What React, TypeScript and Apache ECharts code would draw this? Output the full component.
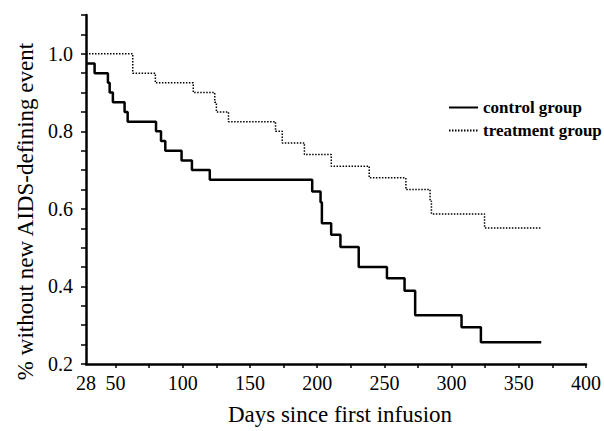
import React, { useEffect, useRef } from "react";
import * as echarts from "echarts";

const controlDays = [28, 34.4, 44.3, 45.6, 48, 56.7, 59, 80.1, 83.8, 87, 99.1, 106.8, 120.1, 196.3, 202.5, 203.5, 210.4, 217.3, 230.9, 251.9, 265, 272.9, 307.4, 321.8, 366.7];
const controlSurv = [0.975, 0.95, 0.925, 0.9, 0.875, 0.85, 0.825, 0.8, 0.775, 0.75, 0.725, 0.7, 0.675, 0.645, 0.617, 0.563, 0.533, 0.502, 0.45, 0.421, 0.389, 0.326, 0.295, 0.256, 0.256];

const treatDays = [28, 62.8, 79.6, 107.8, 123.8, 125, 134, 169, 174, 190.5, 210.5, 238.7, 266, 284, 285, 324.5, 367];
const treatSurv = [1.0, 0.95, 0.925, 0.9, 0.875, 0.85, 0.825, 0.8, 0.77, 0.74, 0.71, 0.68, 0.65, 0.62, 0.587, 0.551, 0.551];

const xLabelValues = [28, 50, 100, 150, 200, 250, 300, 350, 400];
const xTickValues = [50, 75, 100, 125, 150, 175, 200, 225, 250, 275, 300, 325, 350, 375, 400];
const yLabelValues = [0.2, 0.4, 0.6, 0.8, 1.0];
const yTickValues = [0.2, 0.25, 0.3, 0.35, 0.4, 0.45, 0.5, 0.55, 0.6, 0.65, 0.7, 0.75, 0.8, 0.85, 0.9, 0.95, 1.0, 1.05, 1.1];

const seriesNames = ["control group", "treatment group"];
const xTitle = "Days since first infusion";
const yTitle = "% without new AIDS-defining event";

const FONT = "Liberation Serif";

export default function App() {
  const ref = useRef<HTMLDivElement>(null);
  useEffect(() => {
    if (!ref.current) return;
    const chart = echarts.init(ref.current, undefined, { renderer: "svg" });
    const control = controlDays.map((d, i) => [d, controlSurv[i]]);
    const treat = treatDays.map((d, i) => [d, treatSurv[i]]);
    const legendText = {
      fontFamily: FONT,
      fontWeight: "bold",
      fontSize: 17,
      color: "#000",
    };
    chart.setOption({
      animation: false,
      backgroundColor: "#fff",
      textStyle: { fontFamily: FONT, color: "#000" },
      grid: { left: 86, right: 16, top: 15, bottom: 63 },
      legend: {
        orient: "vertical",
        left: 443,
        top: 94,
        itemWidth: 29,
        itemHeight: 14,
        itemGap: 6,
        data: seriesNames.map((n) => ({ name: n, textStyle: legendText })),
        itemStyle: { opacity: 0 },
        textStyle: legendText,
      },
      xAxis: {
        type: "value",
        min: 28,
        max: 400,
        name: xTitle,
        nameLocation: "middle",
        nameGap: 39,
        nameTextStyle: { fontFamily: FONT, fontSize: 23, color: "#000", padding: [0, 0, 0, 8] },
        axisLine: { lineStyle: { color: "#000", width: 2.5 } },
        axisTick: { show: true, customValues: xTickValues, length: 4, lineStyle: { color: "#000", width: 1.5 } },
        axisLabel: {
          customValues: xLabelValues,
          margin: 9,
          fontFamily: FONT,
          fontSize: 20,
          color: "#000",
        },
        splitLine: { show: false },
      },
      yAxis: {
        type: "value",
        min: 0.2,
        max: 1.1,
        name: yTitle,
        nameLocation: "middle",
        nameGap: 37,
        nameTextStyle: { fontFamily: FONT, fontSize: 23, color: "#000", padding: [0, 44, 0, 0] },
        axisLine: { show: true, lineStyle: { color: "#000", width: 2.5 } },
        axisTick: { show: true, customValues: yTickValues, length: 5, lineStyle: { color: "#000", width: 1.5 } },
        axisLabel: {
          customValues: yLabelValues,
          margin: 13,
          fontFamily: FONT,
          fontSize: 20,
          color: "#000",
          formatter: (v: number) => v.toFixed(1),
        },
        splitLine: { show: false },
      },
      series: [
        {
          name: seriesNames[0],
          type: "line",
          step: "end",
          data: control,
          symbol: "none",
          lineStyle: { color: "#000", width: 2.5 },
          itemStyle: { color: "#000" },
        },
        {
          name: seriesNames[1],
          type: "line",
          step: "end",
          data: treat,
          symbol: "none",
          lineStyle: { color: "#000", width: 1.5, type: [1.5, 1.5] },
          itemStyle: { color: "#000" },
        },
      ],
    });
    return () => chart.dispose();
  }, []);
  return (
    <div
      ref={ref}
      style={{ position: "absolute", left: 0, top: 0, width: 604, height: 431 }}
    />
  );
}
